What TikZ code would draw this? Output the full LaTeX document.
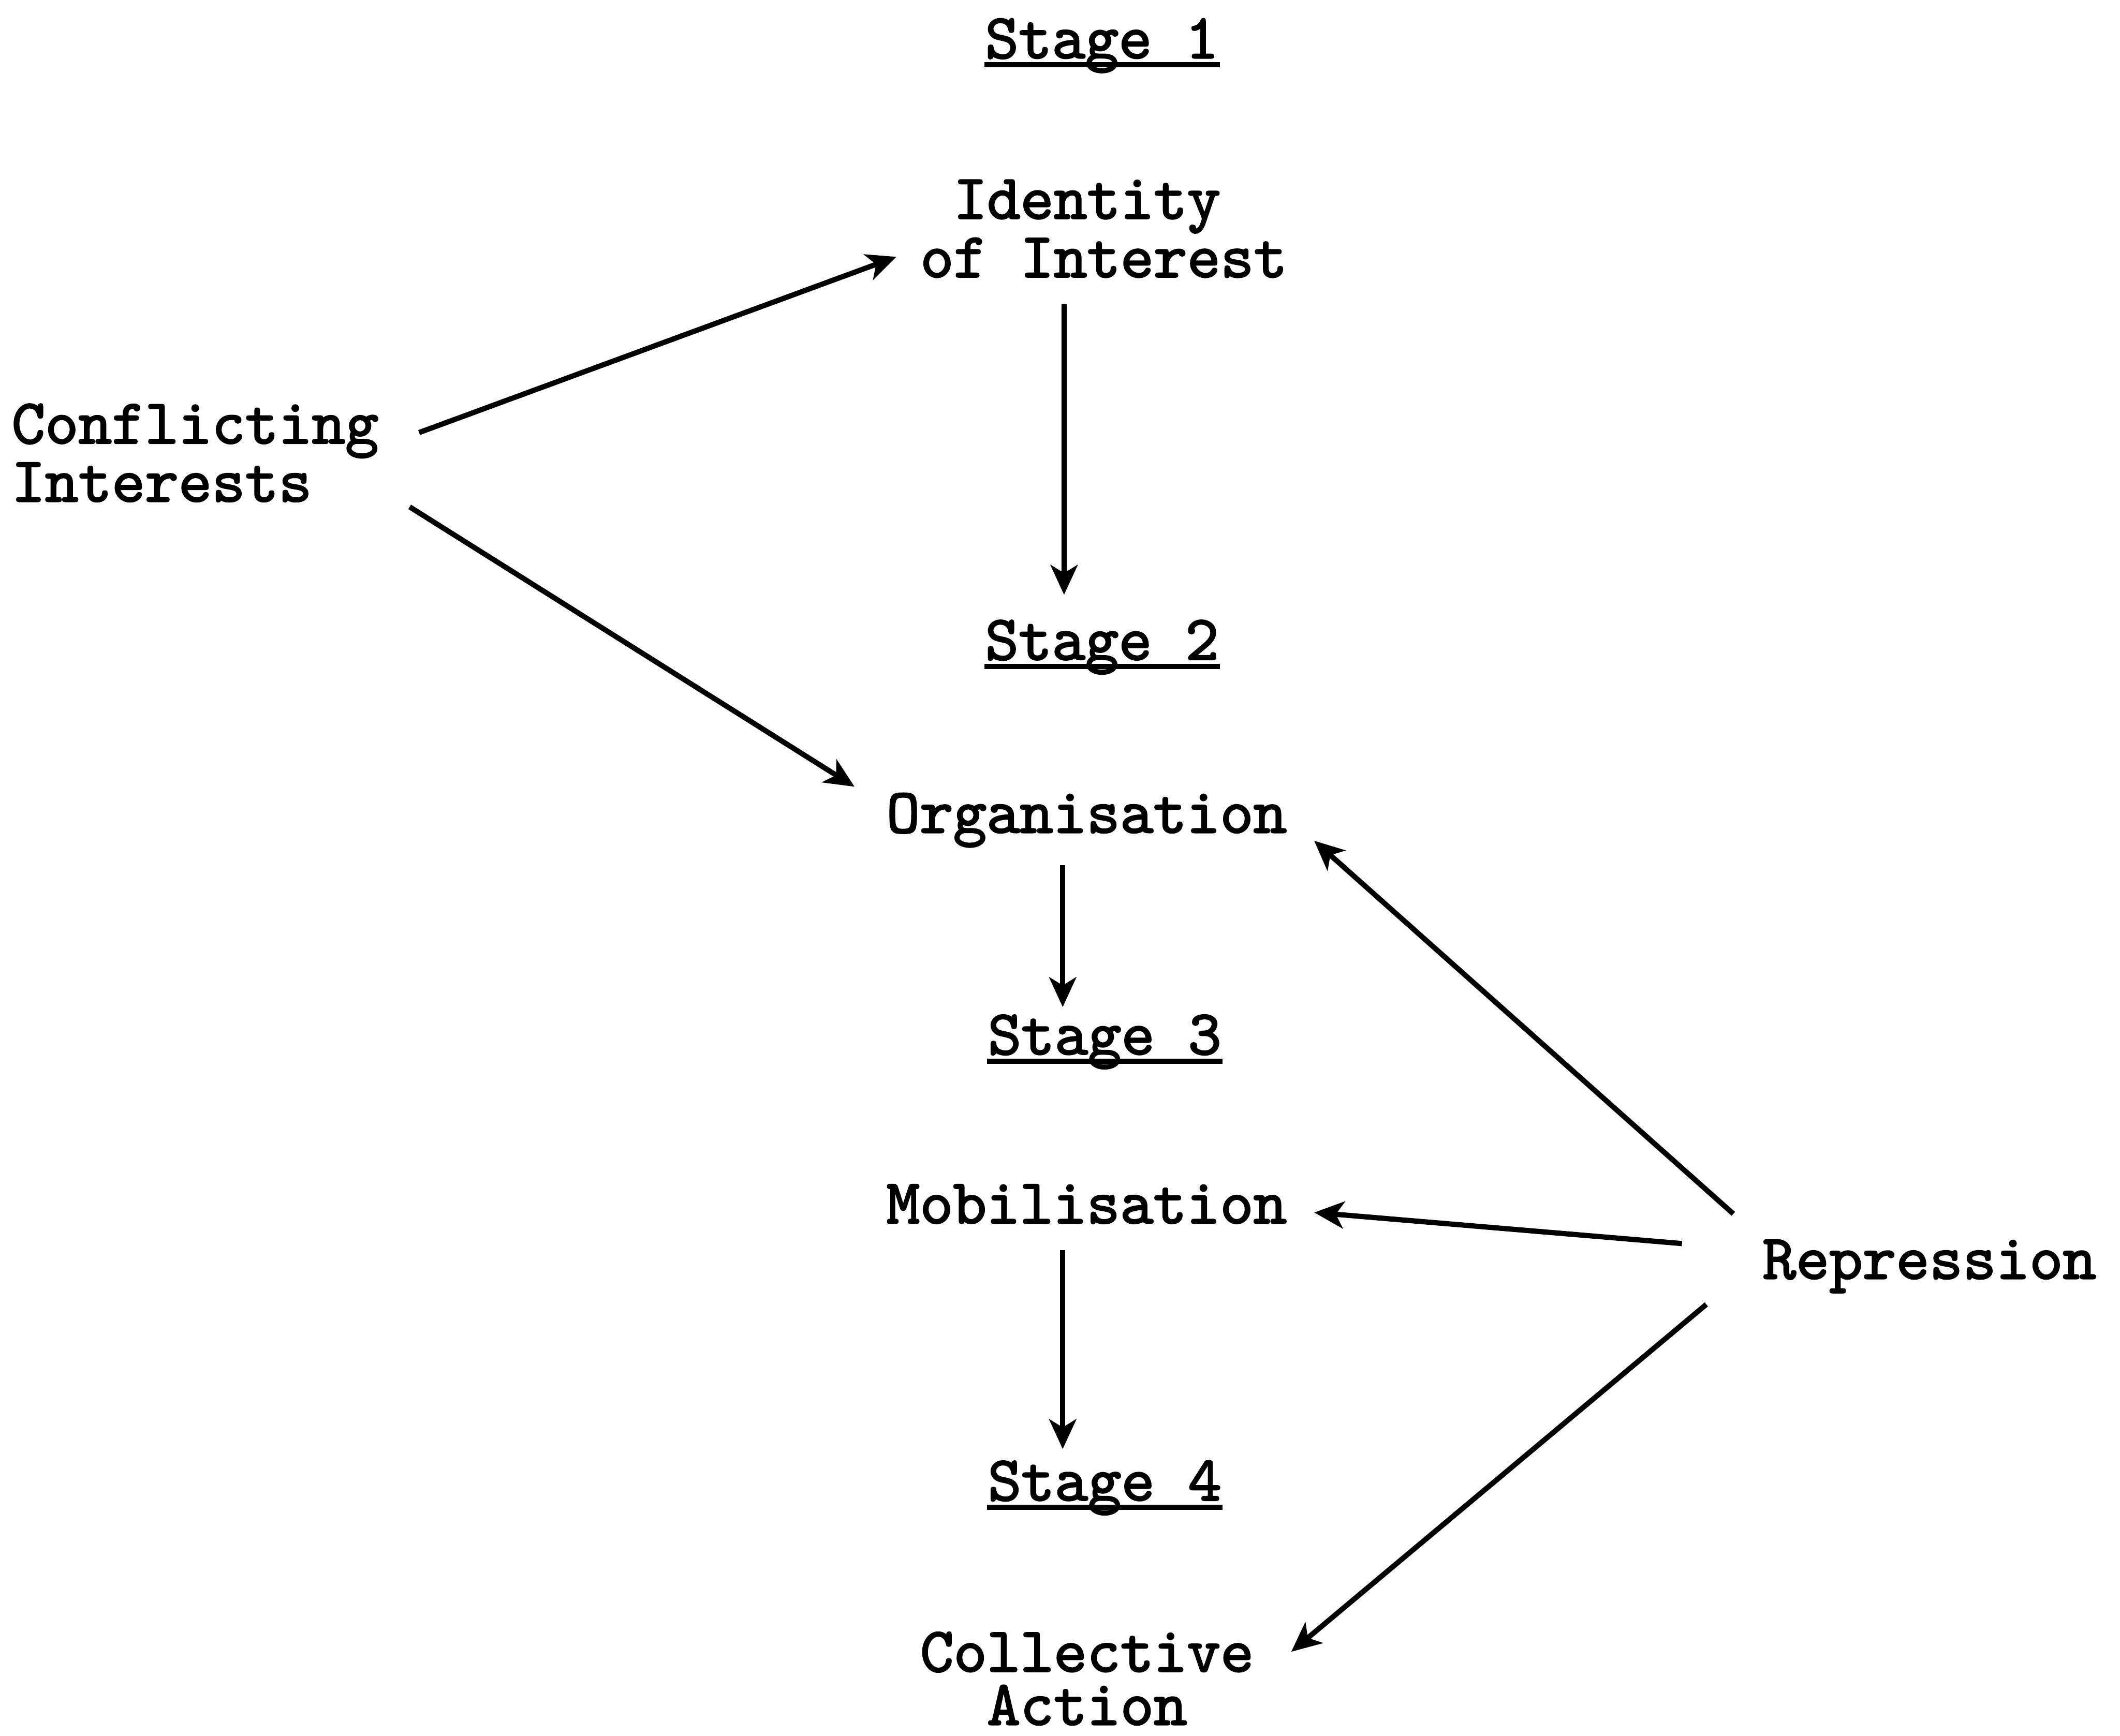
\documentclass[tikz,border=0pt]{standalone}
\usepackage{fontspec}
\newfontfamily\tyfont{lmmono10-regular.otf}[FakeBold=2.2]
\usepackage{tikz}
\usetikzlibrary{arrows.meta}
\tikzset{
    lbl/.style={inner sep=0pt, font=\fontsize{13.37pt}{11.2pt}\selectfont\tyfont},
    arr/.style={line width=1.1pt, -{Stealth[length=2.2mm, width=2mm, inset=0.6mm]}},
    uline/.style={line width=1.1pt}
}
\begin{document}
\begin{tikzpicture}
    \useasboundingbox (0,0) rectangle (15.68,-12.84);
    %%Các giai đoạn
    \node[lbl, anchor=base west] (st1) at (7.28,-0.43) {Stage 1};
    \node[lbl, anchor=base west] (st2) at (7.28,-4.88) {Stage 2};
    \node[lbl, anchor=base west] (st3) at (7.30,-7.80) {Stage 3};
    \node[lbl, anchor=base west] (st4) at (7.30,-11.10) {Stage 4};
    \draw[uline] ([yshift=-0.05cm]st1.base west) -- ([yshift=-0.05cm]st1.base east);
    \draw[uline] ([yshift=-0.05cm]st2.base west) -- ([yshift=-0.05cm]st2.base east);
    \draw[uline] ([yshift=-0.05cm]st3.base west) -- ([yshift=-0.05cm]st3.base east);
    \draw[uline] ([yshift=-0.05cm]st4.base west) -- ([yshift=-0.05cm]st4.base east);
    %%Các nút
    \node[lbl, anchor=base west, align=left] (ident) at (6.80,-2.05) {\hspace*{0.525em}Identity\\of Interest};
    \node[lbl, anchor=base west, align=left] (conf) at (0.08,-3.71) {Conflicting\\Interests};
    \node[lbl, anchor=base west] (org) at (6.55,-6.16) {Organisation};
    \node[lbl, anchor=base west] (mob) at (6.55,-9.05) {Mobilisation};
    \node[lbl, anchor=base west] (rep) at (13.03,-9.46) {Repression};
    \node[lbl, anchor=base, align=center] (coll) at (8.04,-12.76) {Collective\\Action};
    %%Mũi tên
    \draw[arr] ([shift={(3.02,0.51)}]conf.base west) -- ([shift={(-0.17,0.15)}]ident.base west);
    \draw[arr] ([shift={(2.95,-0.04)}]conf.base west) -- ([shift={(-0.23,0.34)}]org.base west);
    \draw[arr] ([shift={(1.07,-0.20)}]ident.base west) -- ([shift={(0.59,0.48)}]st2.base west);
    \draw[arr] ([shift={(1.31,-0.24)}]org.base west) -- ([shift={(0.56,0.35)}]st3.base west);
    \draw[arr] ([shift={(1.31,-0.20)}]mob.base west) -- ([shift={(0.56,0.38)}]st4.base west);
    \draw[arr] ([shift={(-0.21,0.48)}]rep.base west) -- ([shift={(3.17,-0.06)}]org.base west);
    \draw[arr] ([shift={(-0.59,0.26)}]rep.base west) -- ([shift={(3.17,0.08)}]mob.base west);
    \draw[arr] ([shift={(-0.41,-0.19)}]rep.base west) -- ([shift={(1.51,0.54)}]coll.base);
\end{tikzpicture}
\end{document}
